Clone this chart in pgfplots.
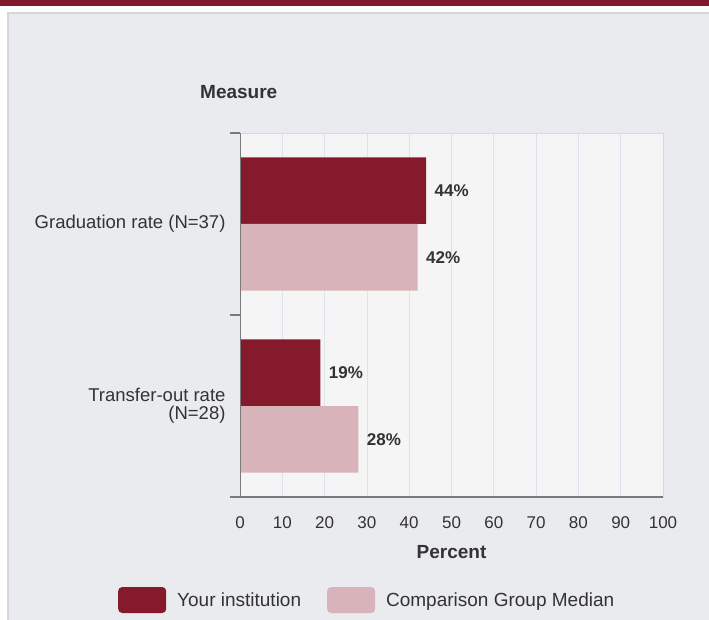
\documentclass[border=0pt]{standalone}
\usepackage{pgfplots}
\pgfplotsset{compat=1.18}
\usepackage{fontspec}
\setmainfont{Liberation Sans}
\definecolor{dark}{HTML}{841A2B}
\definecolor{light}{HTML}{D8B3B9}
\definecolor{outerbg}{HTML}{EAEBEF}
\definecolor{plotbg}{HTML}{F5F5F5}
\definecolor{txt}{HTML}{333333}
\definecolor{gridc}{HTML}{DDE3ED}
\definecolor{axisc}{HTML}{7A7A7A}
\definecolor{band}{HTML}{7E1A2B}
\pgfplotstableread{
y val
0.317 44
1.317 19
}\inst
\pgfplotstableread{
y val
0.683 42
1.683 28
}\comp
\begin{document}
\begin{tikzpicture}
\fill[white] (0,0) rectangle (709pt,620pt);
\useasboundingbox (0,0) rectangle (709pt,620pt);
\fill[band] (0,614pt) rectangle (709pt,620pt);
\filldraw[fill=outerbg, draw=black!16, line width=1.5pt] (8pt,-5pt) rectangle (720pt,607pt);
\node[anchor=base west, font=\fontsize{19}{22}\selectfont\bfseries, text=txt, inner sep=0pt] at (200pt,521pt) {Measure};
\begin{axis}[
  at={(240pt,123pt)}, anchor=south west,
  scale only axis, width=423pt, height=364pt,
  xmin=0, xmax=100, ymin=0, ymax=2,
  y dir=reverse,
  xbar, bar width=0.366,
  axis background/.style={fill=plotbg},
  axis line style={draw=black!15, line width=0.8pt},
  xtick={0,10,...,100},
  xtick pos=bottom, ytick pos=left,
  xtick style={draw=none},
  xmajorgrids,
  major grid style={draw=gridc, line width=0.8pt},
  ytick={0,1,2}, yticklabels={},
  tick align=outside,
  major tick length=10pt,
  ytick style={draw=axisc, line width=1.2pt},
  extra y ticks={0.5,1.5},
  extra y tick labels={Graduation rate (N=37),{Transfer-out rate\\(N=28)}},
  extra y tick style={ytick style={draw=none}, grid=none,
     yticklabel style={align=right, xshift=-1pt, font=\fontsize{18.5}{18}\selectfont, text=txt}},
  /pgf/number format/assume math mode=true,
  xticklabel style={font=\fontsize{17}{20}\selectfont, text=txt, yshift=-6pt},
  xlabel={Percent},
  xlabel style={font=\fontsize{19}{22}\selectfont\bfseries, text=txt, at={(axis description cs:0.5,0)}, anchor=center, yshift=-55pt},
  nodes near coords={\pgfmathprintnumber{\pgfplotspointmeta}\%},
  nodes near coords style={font=\fontsize{17}{20}\selectfont\bfseries, text=txt, anchor=west, xshift=5pt},
  point meta=explicit,
  legend columns=2,
  legend style={at={(axis description cs:-0.2955,-0.283)}, anchor=west, draw=none, fill=none,
     font=\fontsize{19}{20}\selectfont, text=txt,
     /tikz/every even column/.append style={column sep=24pt}},
  legend cell align=left,
]
\addplot[fill=dark, draw=none, bar shift=0pt,
  legend image code/.code={\fill[dark, rounded corners=4pt] (0pt,-13pt) rectangle (48pt,13pt); \path (57pt,0pt);}]
  table[x=val, y=y, meta=val] {\inst};
\addlegendentry{Your institution}
\addplot[fill=light, draw=none, bar shift=0pt,
  legend image code/.code={\fill[light, rounded corners=4pt] (0pt,-13pt) rectangle (48pt,13pt); \path (57pt,0pt);}]
  table[x=val, y=y, meta=val] {\comp};
\addlegendentry{Comparison Group Median}
\draw[axisc, line width=1.2pt] (rel axis cs:0,1) -- (rel axis cs:0,0);
\draw[axisc, line width=1.2pt] (rel axis cs:0,0) -- (rel axis cs:1,0);
\end{axis}
\end{tikzpicture}
\end{document}
